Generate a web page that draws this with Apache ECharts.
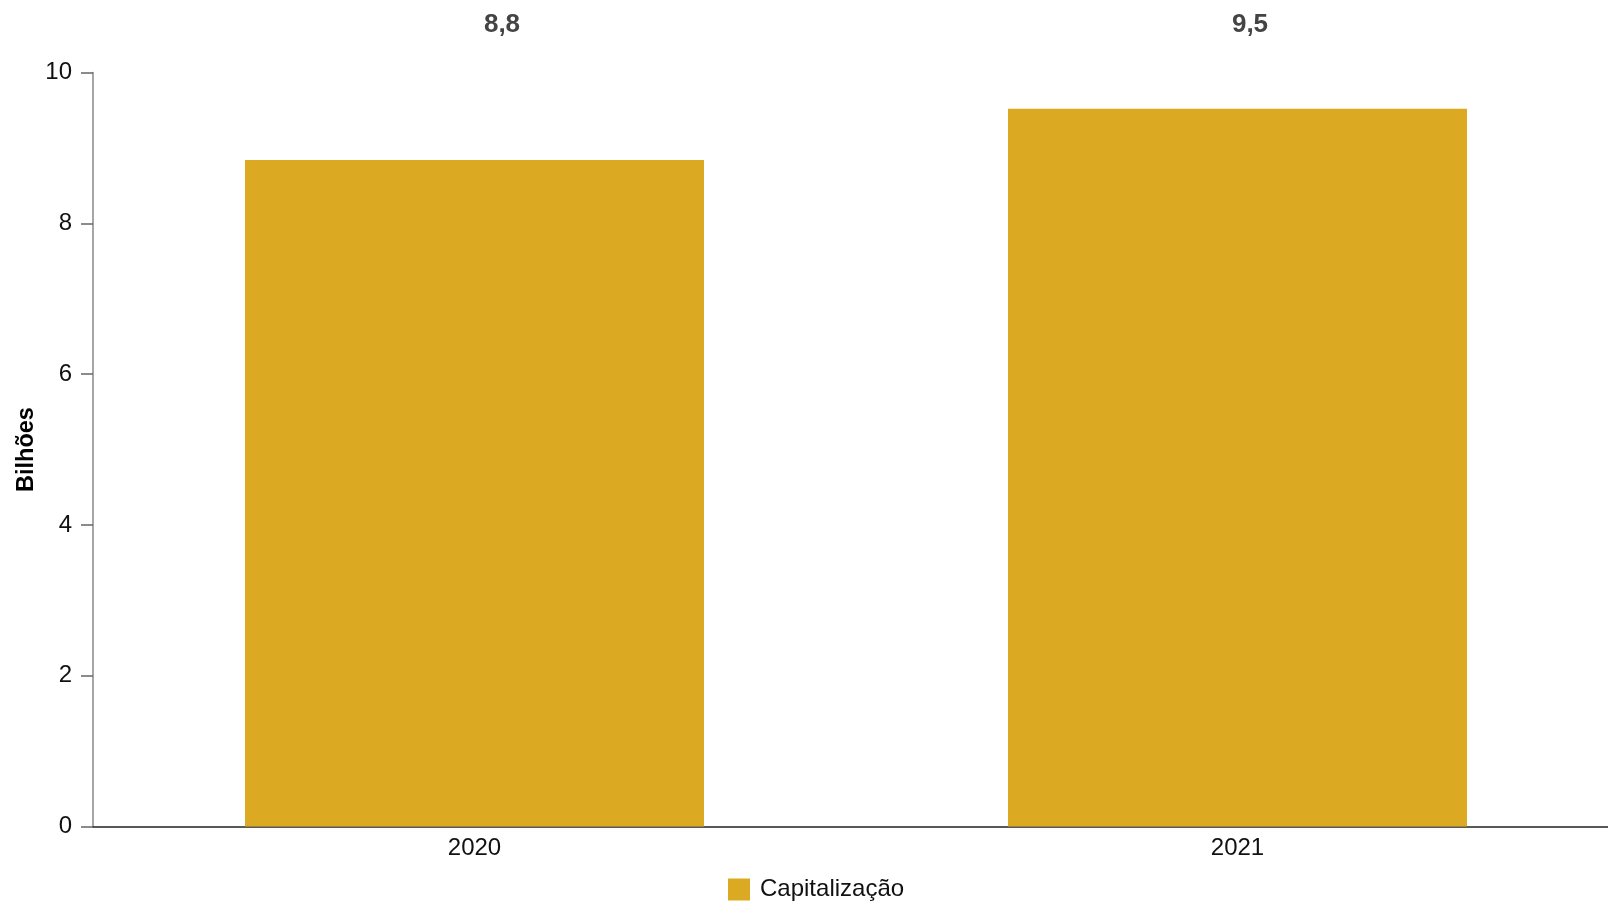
<!DOCTYPE html>
<html>
<head>
<meta charset="utf-8">
<script src="https://cdn.jsdelivr.net/npm/echarts@6/dist/echarts.min.js"></script>
<style>html,body{margin:0;padding:0;background:#fff}#c{width:1608px;height:902px}</style>
</head>
<body>
<div id="c"></div>
<script>
const categories = ['2020', '2021'];
const capitalizacao = [8.84, 9.52];
const seriesName = 'Capitalização';
const yAxisName = 'Bilhões';
const yTicks = [0, 2, 4, 6, 8, 10];

const FONT = '"Liberation Sans", Arial, sans-serif';
const labelPositions = [[257, -135], [242, -84]];

const chart = echarts.init(document.getElementById('c'), null, {renderer: 'canvas'});
chart.setOption({
  animation: false,
  backgroundColor: '#ffffff',
  textStyle: {fontFamily: FONT},
  grid: {left: 93, width: 1526, top: 72.5, bottom: 75.5, containLabel: false, outerBoundsMode: 'none'},
  legend: {
    data: [seriesName],
    left: 723, top: 872.5,
    itemWidth: 22, itemHeight: 22,
    icon: 'rect',
    textStyle: {fontFamily: FONT, fontSize: 24, color: '#111', padding: [0, 0, 0, 5]}
  },
  xAxis: {
    type: 'category',
    data: categories,
    axisLine: {lineStyle: {color: '#222', width: 1.5}},
    axisTick: {show: false},
    axisLabel: {fontFamily: FONT, fontSize: 24, color: '#111', margin: 10},
    splitLine: {show: false}
  },
  yAxis: {
    type: 'value',
    min: yTicks[0], max: yTicks[yTicks.length - 1], interval: 2,
    name: yAxisName,
    nameLocation: 'middle',
    nameRotate: 90,
    nameGap: 54,
    nameMoveOverlap: false,
    nameTextStyle: {fontFamily: FONT, fontSize: 23.5, fontWeight: 'bold', color: '#000'},
    axisLine: {show: true, lineStyle: {color: '#888', width: 1.5}},
    axisTick: {show: true, length: 12, lineStyle: {color: '#666', width: 1.5}},
    axisLabel: {fontFamily: FONT, fontSize: 24, color: '#111', margin: 21},
    splitLine: {show: false}
  },
  series: [{
    name: seriesName,
    type: 'bar',
    barWidth: 459,
    itemStyle: {color: '#DBA922'},
    data: capitalizacao.map((v, i) => ({
      value: v,
      label: {
        show: true,
        position: labelPositions[i],
        align: 'center',
        verticalAlign: 'middle',
        fontFamily: FONT,
        fontSize: 26,
        fontWeight: 'bold',
        color: '#444',
        formatter: p => (Math.floor(p.value * 10) / 10).toFixed(1).replace('.', ',')
      }
    }))
  }]
});
</script>
</body>
</html>
